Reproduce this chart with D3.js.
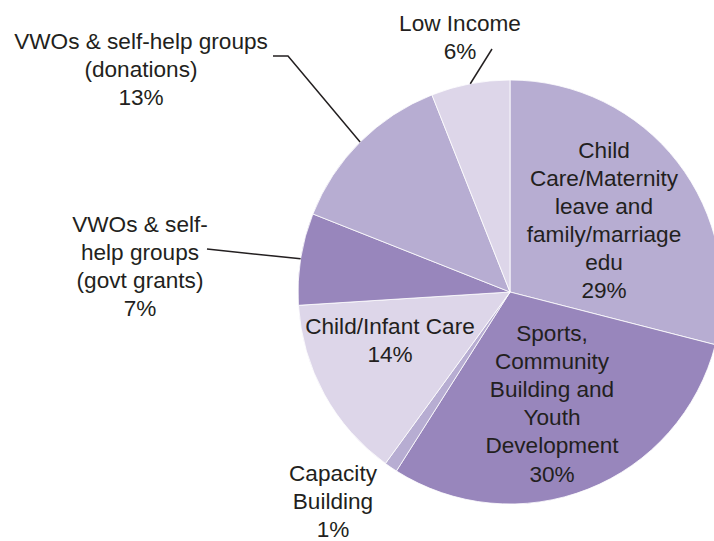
<!DOCTYPE html>
<html>
<head>
<meta charset="utf-8">
<script src="https://cdn.jsdelivr.net/npm/d3@7"></script>
<style>
  html, body { margin: 0; padding: 0; background: #ffffff; }
  svg { display: block; }
  text { font-family: "Liberation Sans", Arial, sans-serif; fill: #231f20; }
</style>
</head>
<body>
<svg id="chart" width="714" height="541"></svg>
<script>
// ---- Data ----
const categories = [
  "Child Care/Maternity leave and family/marriage edu",
  "Sports, Community Building and Youth Development",
  "Capacity Building",
  "Child/Infant Care",
  "VWOs & self-help groups (govt grants)",
  "VWOs & self-help groups (donations)",
  "Low Income"
];
const values = [29, 30, 1, 14, 7, 13, 6];
const labelLines = [
  ["Child", "Care/Maternity", "leave and", "family/marriage", "edu", "29%"],
  ["Sports,", "Community", "Building and", "Youth", "Development", "30%"],
  ["Capacity", "Building", "1%"],
  ["Child/Infant Care", "14%"],
  ["VWOs & self-", "help groups", "(govt grants)", "7%"],
  ["VWOs & self-help groups", "(donations)", "13%"],
  ["Low Income", "6%"]
];

// ---- Styling / layout ----
const colors = ["#b7add2", "#9886bc", "#b7add2", "#ddd6e9", "#9886bc", "#b7add2", "#ddd6e9"];
const cx = 510, cy = 292, R = 212;
const lineH = 28.1;
// first-baseline position (x center, y baseline) of each label, absolute px
const labelPos = [
  [604, 157.5],
  [552, 341],
  [333, 480.5],
  [390, 333.5],
  [140, 232],
  [141, 49],
  [460, 31]
];
// leader line start points (label side); null = no leader
const leaderStart = [null, null, null, null, [[207, 249]], [[273, 56], [288, 56]], [[492, 49]]];

const svg = d3.select("#chart");
const g = svg.append("g").attr("transform", `translate(${cx},${cy})`);

const pie = d3.pie().sort(null).value(d => d);
const arcs = pie(values);
const arc = d3.arc().innerRadius(0).outerRadius(R);

g.selectAll("path.slice")
  .data(arcs)
  .join("path")
  .attr("class", "slice")
  .attr("d", arc)
  .attr("fill", (d, i) => colors[i])
  .attr("stroke", "#ffffff")
  .attr("stroke-width", 0.8);

// leader lines
const line = d3.line();
arcs.forEach((d, i) => {
  if (!leaderStart[i]) return;
  const mid = (d.startAngle + d.endAngle) / 2;
  const end = [cx + R * Math.sin(mid), cy - R * Math.cos(mid)];
  const pts = leaderStart[i].concat([end]);
  svg.append("path")
    .attr("d", line(pts))
    .attr("fill", "none")
    .attr("stroke", "#231f20")
    .attr("stroke-width", 1.5);
});

// labels
labelLines.forEach((lines, i) => {
  const t = svg.append("text")
    .attr("text-anchor", "middle")
    .attr("font-size", 22.6)
    .attr("x", labelPos[i][0])
    .attr("y", labelPos[i][1]);
  lines.forEach((s, j) => {
    t.append("tspan")
      .attr("x", labelPos[i][0])
      .attr("y", labelPos[i][1] + j * lineH)
      .text(s);
  });
});
</script>
</body>
</html>
